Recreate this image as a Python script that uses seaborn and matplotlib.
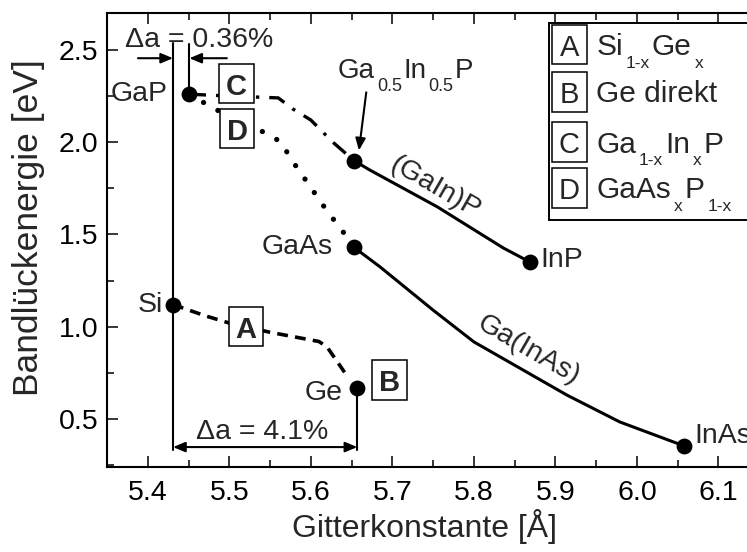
import matplotlib
matplotlib.use("Agg")
import matplotlib.pyplot as plt
from matplotlib.patches import Rectangle
import numpy as np
import pandas as pd
import seaborn as sns

# Binary / ternary end points: lattice constant [Å], band gap [eV]
point_names = ["Si", "Ge", "GaP", "GaAs", "InP", "InAs", "Ga0.5In0.5P"]
point_a = [5.431, 5.657, 5.451, 5.653, 5.869, 6.058, 5.653]
point_eg = [1.12, 0.668, 2.26, 1.43, 1.35, 0.354, 1.90]

# A: Si(1-x)Ge(x)
sige_a = [5.431, 5.47, 5.50, 5.55, 5.61, 5.62, 5.645]
sige_eg = [1.12, 1.06, 1.02, 0.97, 0.92, 0.89, 0.73]

# C: Ga(1-x)In(x)P, indirect part
gainp_ind_a = [5.451, 5.50, 5.56, 5.578, 5.60, 5.627, 5.653]
gainp_ind_eg = [2.26, 2.25, 2.24, 2.18, 2.12, 2.00, 1.90]

# (GaIn)P direct part
gainp_a = [5.653, 5.672, 5.755, 5.836, 5.869]
gainp_eg = [1.90, 1.85, 1.65, 1.427, 1.35]

# D: GaAs(x)P(1-x)
gaasp_a = [5.451, 5.482, 5.531, 5.546, 5.564, 5.574, 5.596, 5.619, 5.642, 5.653]
gaasp_eg = [2.26, 2.18, 2.08, 2.045, 2.00, 1.92, 1.78, 1.633, 1.50, 1.43]

# Ga(InAs)
gainas_a = [5.653, 5.685, 5.75, 5.80, 5.914, 5.979, 6.058]
gainas_eg = [1.43, 1.324, 1.09, 0.918, 0.63, 0.484, 0.354]

x_ticks = [5.4, 5.5, 5.6, 5.7, 5.8, 5.9, 6.0, 6.1]
y_ticks = [0.5, 1.0, 1.5, 2.0, 2.5]

# key table: letter, formula pieces (text, is_subscript)
legend_keys = ["A", "B", "C", "D"]
legend_parts = [
    [("Si", False), ("1-x", True), ("Ge", False), ("x", True)],
    [("Ge direkt", False)],
    [("Ga", False), ("1-x", True), ("In", False), ("x", True), ("P", False)],
    [("GaAs", False), ("x", True), ("P", False), ("1-x", True)],
]
legend_y = [2.528, 2.273, 2.002, 1.753]

sns.set_theme(style="ticks")
plt.rcParams["font.family"] = ["Liberation Sans", "DejaVu Sans"]

FS = 20.5
DPI = 100
fig = plt.figure(figsize=(7.47, 5.52), dpi=DPI)
ax = fig.add_axes([107 / 747, 85 / 552, (800 - 107) / 747, (467 - 13) / 552])
ax.set_xlim(5.35, 6.2)
ax.set_ylim(0.24, 2.7)
renderer = fig.canvas.get_renderer()


def curve(xs, ys, **kw):
    df = pd.DataFrame({"a": xs, "eg": ys})
    sns.lineplot(data=df, x="a", y="eg", sort=False, estimator=None,
                 color="black", ax=ax, **kw)


def text_width_pt(s, size):
    t = fig.text(0.5, 0.5, s, fontsize=size)
    w = t.get_window_extent(renderer).width * 72 / DPI
    t.remove()
    return w


def rich_text(x, y, parts, fs, sub_ratio=0.57, drop=0.42, sub_gap=1.5, zorder=3):
    """Write text with lowered subscripts, left-aligned, vertically centred on y."""
    base = -0.358 * fs
    off = 0.0
    for s, sub in parts:
        size = fs * sub_ratio if sub else fs
        dy = base - drop * fs if sub else base
        if sub:
            off += sub_gap
        ax.annotate(s, xy=(x, y), xycoords="data", xytext=(off, dy),
                    textcoords="offset points", fontsize=size,
                    ha="left", va="baseline", zorder=zorder)
        off += text_width_pt(s, size)
        if sub:
            off += sub_gap * 0.7


def key_box(xc, yc, letter, bold, zorder=6):
    w, h = 0.0425, 0.214
    ax.add_patch(Rectangle((xc - w / 2, yc - h / 2), w, h, facecolor="white",
                           edgecolor="black", lw=1.1, zorder=zorder))
    ax.text(xc, yc, letter, ha="center", va="center_baseline", fontsize=FS + 0.5,
            fontweight="bold" if bold else "normal", zorder=zorder + 1)


curve(sige_a, sige_eg, lw=2.6, dashes=False, linestyle=(0, (3, 2)))
curve(gainp_ind_a, gainp_ind_eg, lw=2.4, dashes=False, linestyle=(0, (5, 3, 1, 3)))
curve(gaasp_a, gaasp_eg, lw=3.8, dashes=False, linestyle=(0, (0.01, 3.1)),
      dash_capstyle="round")
curve(gainp_a, gainp_eg, lw=2.2, dashes=False)
curve(gainas_a, gainas_eg, lw=2.2, dashes=False)

pts = pd.DataFrame({"a": point_a, "eg": point_eg, "name": point_names})
sns.scatterplot(data=pts, x="a", y="eg", color="black", s=130,
                edgecolor="black", linewidth=0, ax=ax, zorder=5)

# lattice-mismatch markers
thin = 1.5
ax.plot([5.431, 5.431], [0.33, 2.54], color="black", lw=thin)
ax.plot([5.451, 5.451], [2.26, 2.53], color="black", lw=thin)
ax.plot([5.657, 5.657], [0.668, 0.33], color="black", lw=thin)
head = dict(arrowstyle="-|>,head_length=0.6,head_width=0.25", color="black", lw=thin,
            shrinkA=0, shrinkB=0)
ax.annotate("", xy=(5.431, 2.455), xytext=(5.388, 2.455), arrowprops=head)
ax.annotate("", xy=(5.451, 2.455), xytext=(5.497, 2.455), arrowprops=head)
ax.annotate("", xy=(5.657, 0.348), xytext=(5.431, 0.348),
            arrowprops=dict(arrowstyle="<|-|>,head_length=0.6,head_width=0.25",
                            color="black", lw=thin, shrinkA=0, shrinkB=0))
ax.text(5.463, 2.555, "Δa = 0.36%", ha="center", va="center", fontsize=FS)
ax.text(5.540, 0.43, "Δa = 4.1%", ha="center", va="center", fontsize=FS)

# Ga0.5In0.5P arrow
ax.annotate("", xy=(5.659, 1.955), xytext=(5.668, 2.27), arrowprops=head)

# material labels
ax.text(5.424, 2.26, "GaP", ha="right", va="center", fontsize=FS)
ax.text(5.418, 1.12, "Si", ha="right", va="center", fontsize=FS)
ax.text(5.639, 0.64, "Ge", ha="right", va="center", fontsize=FS)
ax.text(5.627, 1.43, "GaAs", ha="right", va="center", fontsize=FS)
ax.text(5.881, 1.36, "InP", ha="left", va="center", fontsize=FS)
ax.text(6.071, 0.41, "InAs", ha="left", va="center", fontsize=FS)
rich_text(5.633, 2.40, [("Ga", False), ("0.5", True), ("In", False),
                        ("0.5", True), ("P", False)],
          fs=20, sub_ratio=0.65, drop=0.45, sub_gap=1.5)
ax.text(5.752, 1.755, "(GaIn)P", ha="center", va="center", fontsize=FS,
        rotation=-30, rotation_mode="anchor")
ax.text(5.867, 0.874, "Ga(InAs)", ha="center", va="center", fontsize=FS,
        rotation=-30, rotation_mode="anchor")

# boxed curve keys
key_box(5.5085, 2.317, "C", True)
key_box(5.5095, 2.073, "D", True)
key_box(5.5205, 1.000, "A", True)
key_box(5.6963, 0.711, "B", True)

# key table
ax.add_patch(Rectangle((5.892, 1.578), 0.6, 1.068, facecolor="white",
                       edgecolor="black", lw=1.4, zorder=7))
for k, parts, y in zip(legend_keys, legend_parts, legend_y):
    key_box(5.917, y, k, False, zorder=8)
    rich_text(5.950, y, parts, fs=21.5, sub_ratio=0.58, drop=0.42, sub_gap=2.0,
              zorder=9)

ax.set_xticks(x_ticks)
ax.set_xticklabels([f"{v:.1f}" for v in x_ticks])
ax.set_yticks(y_ticks)
ax.set_yticklabels([f"{v:.1f}" for v in y_ticks])
ax.set_xticks(np.arange(5.35, 6.2, 0.05).round(2), minor=True)
ax.set_yticks(np.arange(0.25, 2.7, 0.25).round(2), minor=True)
ax.set_xlim(5.35, 6.2)
ax.set_ylim(0.24, 2.7)
ax.tick_params(which="both", direction="in", top=True, right=True, width=1.1,
               labelsize=FS, colors="black")
ax.tick_params(which="major", length=8)
ax.tick_params(which="minor", length=5)
ax.tick_params(axis="x", pad=9)
ax.tick_params(axis="y", pad=6)
for s in ax.spines.values():
    s.set_linewidth(1.5)
    s.set_color("black")
ax.set_xlabel("Gitterkonstante [Å]", fontsize=23, va="top")
ax.xaxis.set_label_coords((425 - 107) / 693, -(509 - 467) / 454)
ax.set_ylabel("Bandlückenergie [eV]", fontsize=25.5, va="center")
ax.yaxis.set_label_coords((29 - 107) / 693, (467 - 228) / 454)

fig.savefig("out.png", dpi=DPI)
